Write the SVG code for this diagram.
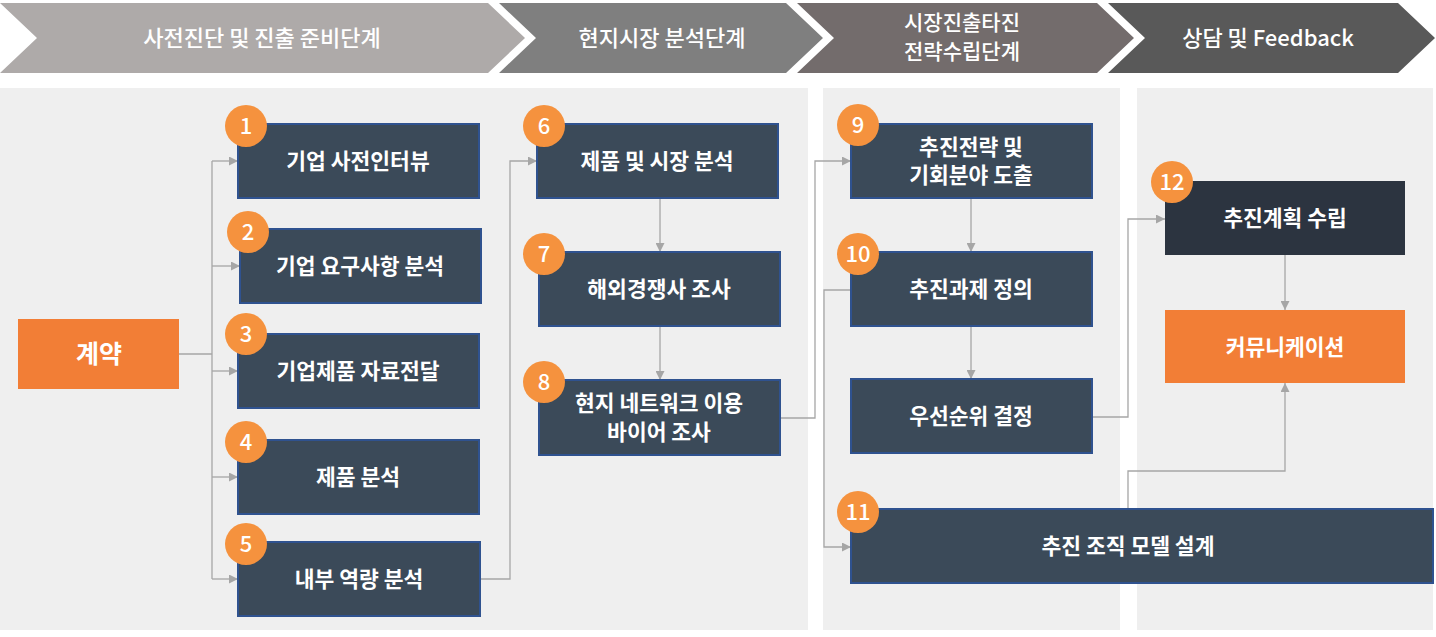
<svg xmlns="http://www.w3.org/2000/svg" width="1436" height="637" viewBox="0 0 1436 637">
<defs>
<style>
.hdr{fill:#fff;font-family:"Noto Sans CJK KR","Noto Sans",sans-serif;font-size:22px;font-weight:500;text-anchor:middle}
.hdr2{font-size:21px}
.panel{fill:#efefef}
.box{fill:#3b4a59;stroke:#2f528f;stroke-width:2}
.dark{fill:#2c3440}
.orange{fill:#f27e36}
.num{fill:#f5923e}
.lbl{fill:#fff;font-family:"Noto Sans CJK KR","Noto Sans",sans-serif;font-size:21.5px;font-weight:700;text-anchor:middle}
.ntx{fill:#fff;font-family:"Noto Sans CJK KR","Noto Sans",sans-serif;font-size:22px;font-weight:500;text-anchor:middle}
.conn{fill:none;stroke:#a6a6a6;stroke-width:1.3}
</style>
<marker id="arr" markerUnits="userSpaceOnUse" markerWidth="9" markerHeight="9" refX="9" refY="4.5" orient="auto">
<path d="M0,0 L9,4.5 L0,9 z" fill="#a6a6a6"/>
</marker>
</defs>
<rect width="1436" height="637" fill="#fff"/>

<g id="header">
<polygon points="0,3 488,3 525,38 488,73 0,73 37,38" fill="#aeaaa9"/>
<text class="hdr" x="262" y="46">사전진단 및 진출 준비단계</text>
<polygon points="499,3 786,3 823,38 786,73 499,73 536,38" fill="#7f7f7f"/>
<text class="hdr" x="662" y="46">현지시장 분석단계</text>
<polygon points="797,3 1097,3 1134,38 1097,73 797,73 834,38" fill="#736c6c"/>
<text class="hdr hdr2" x="962" y="30">시장진출타진</text>
<text class="hdr hdr2" x="962" y="59">전략수립단계</text>
<polygon points="1108,3 1398,3 1435,38 1398,73 1108,73 1145,38" fill="#595959"/>
<text class="hdr" x="1268" y="46">상담 및 Feedback</text>
</g>

<g id="panels">
<rect class="panel" x="0" y="88" width="808" height="542"/>
<rect class="panel" x="823" y="88" width="297" height="542"/>
<rect class="panel" x="1137" y="88" width="296" height="542"/>
</g>

<g id="connectors">
<path class="conn" d="M178,354 H212 M212,161 V579"/>
<path class="conn" d="M212,161 H238" marker-end="url(#arr)"/>
<path class="conn" d="M212,266 H240" marker-end="url(#arr)"/>
<path class="conn" d="M212,371 H238" marker-end="url(#arr)"/>
<path class="conn" d="M212,477 H238" marker-end="url(#arr)"/>
<path class="conn" d="M212,579 H238" marker-end="url(#arr)"/>
<path class="conn" d="M480,579 H510 V161 H537" marker-end="url(#arr)"/>
<path class="conn" d="M660,199 V252" marker-end="url(#arr)"/>
<path class="conn" d="M660,327 V380" marker-end="url(#arr)"/>
<path class="conn" d="M780,418 H815 V161 H851" marker-end="url(#arr)"/>
<path class="conn" d="M971,199 V252" marker-end="url(#arr)"/>
<path class="conn" d="M971,327 V379" marker-end="url(#arr)"/>
<path class="conn" d="M851,290 H824 V547 H851" marker-end="url(#arr)"/>
<path class="conn" d="M1091,417 H1128 V219 H1165" marker-end="url(#arr)"/>
<path class="conn" d="M1285,255 V310" marker-end="url(#arr)"/>
<path class="conn" d="M1128,509 V471 H1285 V383" marker-end="url(#arr)"/>
</g>

<g id="n-contract">
<rect class="orange" x="18" y="319" width="161" height="70"/>
<text class="lbl" x="99" y="363" style="font-size:25px">계약</text>
</g>

<g id="n1">
<rect class="box" x="238" y="124" width="241" height="74"/>
<text class="lbl" x="358" y="169">기업 사전인터뷰</text>
<circle class="num" cx="246" cy="126" r="21"/>
<text class="ntx" x="246" y="134">1</text>
</g>
<g id="n2">
<rect class="box" x="240" y="229" width="241" height="74"/>
<text class="lbl" x="360" y="274">기업 요구사항 분석</text>
<circle class="num" cx="248" cy="232" r="21"/>
<text class="ntx" x="248" y="240">2</text>
</g>
<g id="n3">
<rect class="box" x="238" y="334" width="241" height="74"/>
<text class="lbl" x="358" y="379">기업제품 자료전달</text>
<circle class="num" cx="246" cy="334" r="21"/>
<text class="ntx" x="246" y="342">3</text>
</g>
<g id="n4">
<rect class="box" x="238" y="440" width="241" height="74"/>
<text class="lbl" x="358" y="485">제품 분석</text>
<circle class="num" cx="246" cy="442" r="21"/>
<text class="ntx" x="246" y="450">4</text>
</g>
<g id="n5">
<rect class="box" x="238" y="542" width="242" height="74"/>
<text class="lbl" x="359" y="587">내부 역량 분석</text>
<circle class="num" cx="246" cy="544" r="21"/>
<text class="ntx" x="246" y="552">5</text>
</g>
<g id="n6">
<rect class="box" x="537" y="124" width="241" height="74"/>
<text class="lbl" x="657" y="169">제품 및 시장 분석</text>
<circle class="num" cx="544" cy="126" r="21"/>
<text class="ntx" x="544" y="134">6</text>
</g>
<g id="n7">
<rect class="box" x="539" y="252" width="241" height="74"/>
<text class="lbl" x="659" y="297">해외경쟁사 조사</text>
<circle class="num" cx="544" cy="254" r="21"/>
<text class="ntx" x="544" y="262">7</text>
</g>
<g id="n8">
<rect class="box" x="539" y="380" width="241" height="75"/>
<text class="lbl" x="659" y="411">현지 네트워크 이용</text>
<text class="lbl" x="659" y="440">바이어 조사</text>
<circle class="num" cx="544" cy="382" r="21"/>
<text class="ntx" x="544" y="390">8</text>
</g>
<g id="n9">
<rect class="box" x="851" y="124" width="241" height="74"/>
<text class="lbl" x="971" y="155">추진전략 및</text>
<text class="lbl" x="971" y="183">기회분야 도출</text>
<circle class="num" cx="858" cy="125" r="21"/>
<text class="ntx" x="858" y="133">9</text>
</g>
<g id="n10">
<rect class="box" x="851" y="252" width="241" height="74"/>
<text class="lbl" x="971" y="297">추진과제 정의</text>
<circle class="num" cx="858" cy="254" r="21"/>
<text class="ntx" x="858" y="262">10</text>
</g>
<g id="n-priority">
<rect class="box" x="851" y="379" width="241" height="74"/>
<text class="lbl" x="971" y="424">우선순위 결정</text>
</g>
<g id="n11">
<rect class="box" x="851" y="509" width="582" height="74"/>
<text class="lbl" x="1128" y="554">추진 조직 모델 설계</text>
<circle class="num" cx="858" cy="512" r="21"/>
<text class="ntx" x="858" y="520">11</text>
</g>
<g id="n12">
<rect class="dark" x="1165" y="181" width="240" height="74"/>
<text class="lbl" x="1285" y="226">추진계획 수립</text>
<circle class="num" cx="1172" cy="182" r="21"/>
<text class="ntx" x="1172" y="190">12</text>
</g>
<g id="n-comm">
<rect class="orange" x="1165" y="310" width="240" height="73"/>
<text class="lbl" x="1285" y="355">커뮤니케이션</text>
</g>
</svg>
